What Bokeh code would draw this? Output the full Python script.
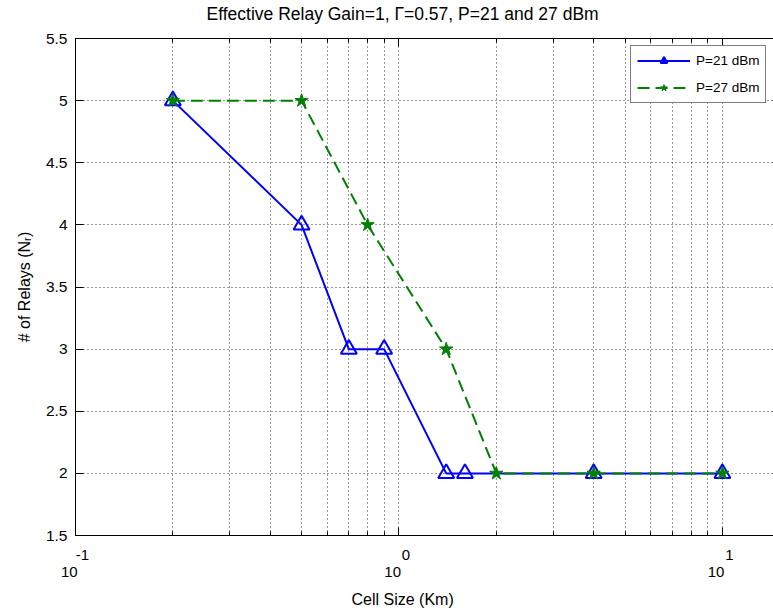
from bokeh.plotting import figure
from bokeh.models import (Range1d, LogAxis, LogScale, FixedTicker, Legend,
                          LegendItem, Title, CustomJSTickFormatter)
from bokeh.embed import file_html
from bokeh.resources import INLINE

# ---- data ----
cell_size_p21 = [0.2, 0.5, 0.7, 0.9, 1.4, 1.6, 4, 10]
relays_p21 = [5, 4, 3, 3, 2, 2, 2, 2]
cell_size_p27 = [0.2, 0.5, 0.8, 1.4, 2, 4, 10]
relays_p27 = [5, 5, 4, 3, 2, 2, 2]
y_ticks = [1.5, 2, 2.5, 3, 3.5, 4, 4.5, 5, 5.5]
y_tick_labels = ["1.5", "2", "2.5", "3", "3.5", "4", "4.5", "5", "5.5"]
x_decades = [0.1, 1, 10]
x_exponents = ["-1", "0", "1"]
x_base_label = "10"
series_labels = ["P=21 dBm", "P=27 dBm"]
title_text = "Effective Relay Gain=1, \u0393=0.57, P=21 and 27 dBm"
x_label_text = "Cell Size (Km)"
y_label_text = "# of Relays (N\u1d63)"

FONT = "Liberation Sans"
BLUE = "#0000ff"
GREEN = "#008000"

X_START, X_END = 0.1, 14.39
DECADE_PX = 323.4

p = figure(width=773, height=615, x_axis_type="log",
           x_range=Range1d(X_START, X_END), y_range=Range1d(1.5, 5.5),
           output_backend="svg", toolbar_location=None,
           min_border_left=75, min_border_right=0,
           min_border_top=38, min_border_bottom=80)
p.outline_line_color = None
p.background_fill_color = "white"
p.border_fill_color = "white"

minor_x = [m * 10.0 ** k for k in (-1, 0) for m in range(2, 10)]
x_ticker = FixedTicker(ticks=x_decades, minor_ticks=minor_x)
y_ticker = FixedTicker(ticks=y_ticks, minor_ticks=[])


def style_x_axis(ax, label="", label_size="0px", standoff=0):
    ax.ticker = x_ticker
    ax.formatter = CustomJSTickFormatter(code="return %r;" % label)
    ax.major_label_text_font_size = label_size
    ax.major_tick_in = 8
    ax.major_tick_out = 0
    ax.minor_tick_in = 4
    ax.minor_tick_out = 0
    ax.axis_line_color = "black"
    ax.major_tick_line_color = "black"
    ax.minor_tick_line_color = "black"
    ax.major_label_standoff = standoff


style_x_axis(p.xaxis[0])
top_axis = LogAxis()
# the top axis keeps a little room (blank labels) between the box and the title
style_x_axis(top_axis, label="\u00a0", label_size="1px", standoff=11)
p.add_layout(top_axis, "above")

# label-only axes below: exponent row (shifted right), then the "10" row
exp_shift = 10 ** (-7 / DECADE_PX)
p.extra_x_ranges = {"exp": Range1d(X_START * exp_shift, X_END * exp_shift)}
p.extra_x_scales = {"exp": LogScale()}


def label_axis(labels, standoff, range_name="default"):
    ax = LogAxis(x_range_name=range_name,
                 ticker=FixedTicker(ticks=x_decades, minor_ticks=[]))
    ax.major_label_overrides = {t: s for t, s in zip(x_decades, labels)}
    ax.axis_line_color = None
    ax.major_tick_line_color = None
    ax.minor_tick_line_color = None
    ax.major_tick_in = 0
    ax.major_tick_out = 0
    ax.minor_tick_in = 0
    ax.minor_tick_out = 0
    ax.major_label_standoff = standoff
    ax.major_label_text_font = FONT
    ax.major_label_text_font_size = "15px"
    ax.major_label_text_color = "black"
    return ax


p.add_layout(label_axis(x_exponents, 14, "exp"), "below")
# trailing no-break spaces push the centred "10" a little left of its tick
p.add_layout(label_axis([x_base_label + "\u00a0\u00a0\u00a0"] * len(x_decades), 0),
             "below")

yax = p.yaxis[0]
yax.ticker = y_ticker
yax.major_label_overrides = {t: s for t, s in zip(y_ticks, y_tick_labels)}
yax.major_tick_in = 8
yax.major_tick_out = 0
yax.minor_tick_line_color = None
yax.major_label_standoff = 8
yax.major_label_text_font = FONT
yax.major_label_text_font_size = "15.5px"
yax.major_label_text_color = "black"
yax.axis_line_color = "black"
yax.axis_label = y_label_text
yax.axis_label_text_font = FONT
yax.axis_label_text_font_size = "16px"
yax.axis_label_text_font_style = "normal"
yax.axis_label_text_color = "black"
yax.axis_label_standoff = 10

p.xgrid.grid_line_color = "black"
p.xgrid.grid_line_dash = "1 3"
p.xgrid.grid_line_alpha = 0.8
p.xgrid.minor_grid_line_color = "black"
p.xgrid.minor_grid_line_dash = "1 3"
p.xgrid.minor_grid_line_alpha = 0.8
p.ygrid.grid_line_color = "black"
p.ygrid.grid_line_dash = "1 3"
p.ygrid.grid_line_alpha = 0.8

# ---- series ----
l21 = p.line(cell_size_p21, relays_p21, line_color=BLUE, line_width=2)
s21 = p.scatter(cell_size_p21, relays_p21, marker="triangle", size=16,
                line_color=BLUE, line_width=2, fill_alpha=0)
l27 = p.line(cell_size_p27, relays_p27, line_color=GREEN, line_width=2,
             line_dash="12 6")
s27 = p.scatter(cell_size_p27, relays_p27, marker="star", size=14,
                line_color=GREEN, fill_color=GREEN)

legend = Legend(items=[LegendItem(label=series_labels[0], renderers=[l21, s21]),
                       LegendItem(label=series_labels[1], renderers=[l27, s27])],
                location=(555, 432), glyph_width=53, glyph_height=17,
                label_height=17, label_standoff=6, spacing=10, padding=6,
                border_line_color="black", border_line_width=1,
                background_fill_color="white", background_fill_alpha=1,
                label_text_font=FONT, label_text_font_size="13.5px",
                label_text_color="black")
p.add_layout(legend)

# ---- title and x label ----
p.title.text = title_text
p.title.align = "left"
p.title.offset = 131
p.title.text_font = FONT
p.title.text_font_size = "17.5px"
p.title.text_font_style = "normal"
p.title.text_color = "black"
p.title.standoff = 0

xlabel = Title(text=x_label_text, align="left", offset=276,
               text_font=FONT, text_font_size="16px",
               text_font_style="normal", text_color="black", standoff=12)
p.add_layout(xlabel, "below")

open("out.html", "w").write(file_html(p, INLINE))
